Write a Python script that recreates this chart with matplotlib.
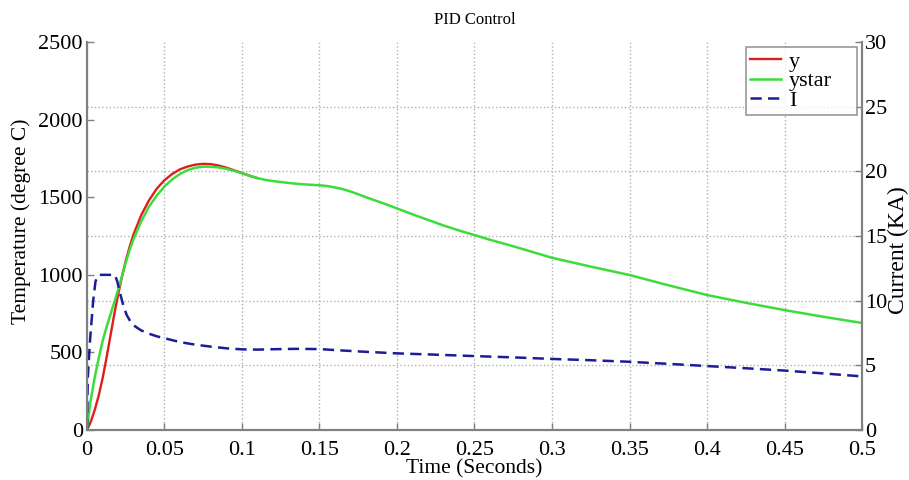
import numpy as np
import matplotlib.pyplot as plt
from matplotlib.ticker import FixedLocator

plt.rcParams['font.family'] = ['Liberation Serif', 'DejaVu Serif']

# temperature response y (degree C)
t_y = [0, 0.0025, 0.005, 0.0075, 0.01, 0.0125, 0.015, 0.0175, 0.02, 0.0225,
       0.025, 0.0275, 0.03, 0.035, 0.04, 0.045, 0.05, 0.055, 0.06, 0.065,
       0.07, 0.075, 0.08, 0.085, 0.09, 0.095, 0.1, 0.105, 0.11]
y = [0, 55, 130, 220, 330, 460, 600, 740, 870, 985,
     1090, 1180, 1260, 1385, 1480, 1555, 1610, 1650, 1680, 1698,
     1710, 1715, 1713, 1704, 1690, 1673, 1656, 1638, 1623]

# reference trajectory ystar (degree C)
t_ystar = [0, 0.002, 0.005, 0.0075, 0.01, 0.0125, 0.015, 0.0175, 0.02, 0.0225,
           0.025, 0.0275, 0.03, 0.035, 0.04, 0.045, 0.05, 0.055, 0.06, 0.065,
           0.07, 0.075, 0.08, 0.085, 0.09, 0.095, 0.1, 0.105, 0.11, 0.115,
           0.12, 0.125, 0.13, 0.135, 0.14, 0.145, 0.15, 0.155, 0.16, 0.165,
           0.17, 0.175, 0.18, 0.19, 0.2, 0.21, 0.22, 0.23, 0.24, 0.25,
           0.26, 0.275, 0.3, 0.325, 0.35, 0.375, 0.4, 0.425, 0.45, 0.475, 0.5]
ystar = [0, 170, 340, 460, 570, 660, 740, 820, 900, 990,
         1080, 1160, 1230, 1345, 1440, 1510, 1570, 1615, 1650, 1675,
         1690, 1697, 1697, 1692, 1683, 1670, 1654, 1638, 1623, 1612,
         1604, 1598, 1592, 1587, 1583, 1580, 1577, 1572, 1563, 1552,
         1537, 1519, 1500, 1465, 1428, 1390, 1354, 1318, 1286, 1256,
         1226, 1184, 1110, 1053, 999, 933, 870, 820, 773, 730, 690]

# heating current I (KA)
t_i = [0, 0.0005, 0.002, 0.004, 0.0055, 0.0075, 0.018, 0.0195, 0.0213, 0.0235,
       0.0256, 0.028, 0.03, 0.035, 0.04, 0.045, 0.05, 0.06, 0.07, 0.08,
       0.09, 0.1, 0.11, 0.12, 0.135, 0.15, 0.165, 0.18, 0.2, 0.225,
       0.25, 0.275, 0.3, 0.325, 0.35, 0.375, 0.4, 0.425, 0.45, 0.475, 0.5]
current = [0, 4.0, 7.0, 10.0, 11.5, 12.0, 12.0, 11.5, 10.6, 9.6,
           8.9, 8.4, 8.1, 7.7, 7.45, 7.25, 7.1, 6.8, 6.6, 6.45,
           6.32, 6.24, 6.22, 6.25, 6.28, 6.26, 6.15, 6.05, 5.93, 5.83,
           5.72, 5.62, 5.5, 5.4, 5.28, 5.12, 4.95, 4.78, 4.6, 4.38, 4.15]

xtick_labels = ['0', '0.05', '0.1', '0.15', '0.2', '0.25', '0.3', '0.35',
                '0.4', '0.45', '0.5']

fig = plt.figure(figsize=(9.09, 4.8), dpi=100)
ax = fig.add_axes([0.0957, 0.104, 0.8526, 0.8085])
ax2 = ax.twinx()

l1, = ax.plot(t_y, y, color='#e01c1c', lw=1.7, label='y')
l2, = ax.plot(t_ystar, ystar, color='#3cdc3c', lw=1.8, label='ystar')
l3, = ax2.plot(t_i, current, color='#1c1c96', lw=1.8, ls=(0, (4.5, 2.5)), label='I')

ax.set_xlim(0, 0.5)
ax.set_ylim(0, 2500)
ax2.set_ylim(0, 30)
ax.set_xticks(np.arange(0, 0.51, 0.05))
ax.set_xticklabels(xtick_labels)
ax.set_yticks(np.arange(0, 2501, 500))
ax2.set_yticks(np.arange(0, 31, 5))

# horizontal grid follows the right axis divisions
ax.yaxis.set_minor_locator(FixedLocator(np.linspace(0, 2500, 7)))
ax.grid(which='minor', axis='y', color='#b0b0b0', ls=':', lw=1)
ax.grid(which='major', axis='x', color='#b0b0b0', ls=':', lw=1)
ax.tick_params(which='minor', length=0)

for a in (ax, ax2):
    a.tick_params(which='major', direction='in', length=5, color='#808080',
                  labelsize=16, width=1, pad=3)
    for s in a.spines.values():
        s.set_color('#808080')
        s.set_linewidth(1.5)
    a.spines['top'].set_visible(False)
ax.tick_params(axis='x', pad=8)
ax2.tick_params(axis='y', pad=2)

ax.set_xlabel('Time (Seconds)', fontsize=15.5)
ax.xaxis.set_label_coords(0.5, -0.076)
ax.set_ylabel('Temperature (degree C)', fontsize=15.5)
ax.yaxis.set_label_coords(-0.072, 0.539)
ax2.set_ylabel('Current (KA)', fontsize=17)
ax2.yaxis.set_label_coords(1.033, 0.464)
ax.set_title('PID Control', fontsize=12, pad=13)

leg = ax2.legend(handles=[l1, l2, l3], loc='upper right',
                 bbox_to_anchor=(0.850, 0.5, 0.1435, 0.487), mode='expand',
                 fontsize=16, frameon=True,
                 fancybox=False, handlelength=1.4, handletextpad=0.35,
                 borderpad=0.2, labelspacing=-0.05, borderaxespad=0)
leg.get_frame().set_edgecolor('#808080')
leg.get_frame().set_linewidth(1.2)

fig.savefig('out.png', dpi=100)
